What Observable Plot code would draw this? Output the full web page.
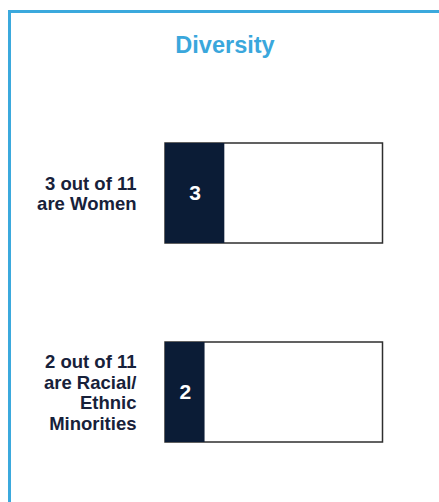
<!DOCTYPE html>
<html>
<head>
<meta charset="utf-8">
<script src="https://cdn.jsdelivr.net/npm/d3@7"></script>
<script src="https://cdn.jsdelivr.net/npm/@observablehq/plot@0.6"></script>
<style>
  html, body { margin: 0; padding: 0; background: #fff; }
  body { width: 439px; height: 502px; position: relative; overflow: hidden; font-family: "Liberation Sans", Arial, Helvetica, sans-serif; }
  #frame { position: absolute; left: 8px; top: 10px; width: 460px; height: 520px; border-left: 3px solid #3ba9dd; border-top: 3px solid #3ba9dd; box-sizing: border-box; }
  #title { position: absolute; left: 11px; right: 0; top: 31px; text-align: center; color: #3aa7dc; font-weight: bold; font-size: 23.5px; line-height: 28px; }
  #chart { position: absolute; left: 0; top: 0; }
</style>
</head>
<body>
<div id="frame"></div>
<div id="chart"></div>
<div id="title">Diversity</div>
<script>
const title = "Diversity";
const groups = ["Women", "Racial/Ethnic Minorities"];
const groupLines = [["are Women"], ["are Racial/", "Ethnic", "Minorities"]];
const counts = [3, 2];
const total = 11;

document.getElementById("title").textContent = title;

const data = groups.map((g, i) => ({
  group: g,
  count: counts[i],
  total: total,
  label: [`${counts[i]} out of ${total}`, ...groupLines[i]].join("\n")
}));

const navy = "#0b1c36";

const chart = Plot.plot({
  width: 439,
  height: 502,
  margin: 0,
  style: { fontFamily: "'Liberation Sans', Arial, Helvetica, sans-serif", background: "transparent" },
  x: { domain: [0, total], range: [165, 382.5], axis: null },
  y: { domain: groups, range: [142, 441.5], paddingInner: 0.5, paddingOuter: 0, axis: null },
  marks: [
    Plot.barX(data, { y: "group", x1: 0, x2: "total", fill: "white", stroke: "#2e2e2e", strokeWidth: 1.5 }),
    Plot.barX(data, { y: "group", x1: 0, x2: "count", fill: navy }),
    Plot.text(data, { y: "group", x: d => d.count / 2, text: d => String(d.count), fill: "white", fontSize: 21, fontWeight: "bold" }),
    Plot.text(data, { y: "group", x: 0, dx: -29, text: "label", textAnchor: "end", fill: "#17213a", fontSize: 18.5, fontWeight: "bold", lineHeight: 1.11 })
  ]
});
document.getElementById("chart").appendChild(chart);
</script>
</body>
</html>
